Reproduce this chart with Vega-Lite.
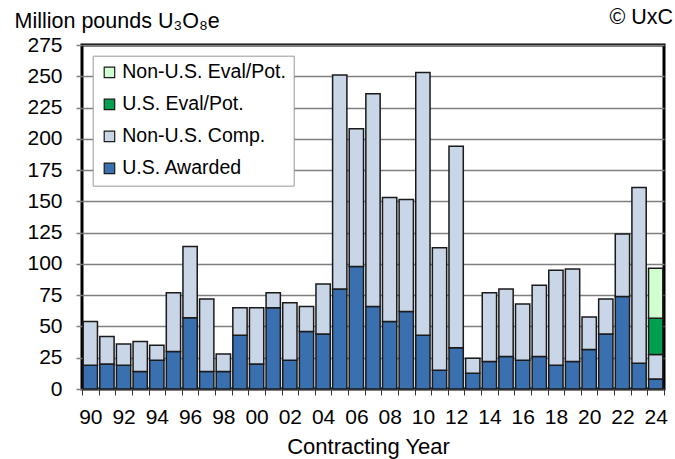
{
  "$schema": "https://vega.github.io/schema/vega-lite/v6.json",
  "width": 582,
  "height": 344,
  "autosize": {"type": "none"},
  "padding": {"left": 82, "top": 45, "right": 11, "bottom": 70},
  "background": "white",
  "title": {"text": "© UxC", "anchor": "end", "frame": "group", "dx": 9, "dy": 35, "baseline": "alphabetic", "offset": 0, "fontSize": 21.5, "font": "Liberation Sans", "fontWeight": "normal", "color": "black"},
  "config": {
    "view": {"stroke": "black", "strokeWidth": 3},
    "font": "Liberation Sans"
  },
  "data": {"values": [
    {"year": 1990, "cat": "U.S. Awarded", "ord": 1, "v": 19}, {"year": 1990, "cat": "Non-U.S. Comp.", "ord": 2, "v": 35},
    {"year": 1991, "cat": "U.S. Awarded", "ord": 1, "v": 20}, {"year": 1991, "cat": "Non-U.S. Comp.", "ord": 2, "v": 22},
    {"year": 1992, "cat": "U.S. Awarded", "ord": 1, "v": 19}, {"year": 1992, "cat": "Non-U.S. Comp.", "ord": 2, "v": 17},
    {"year": 1993, "cat": "U.S. Awarded", "ord": 1, "v": 14}, {"year": 1993, "cat": "Non-U.S. Comp.", "ord": 2, "v": 24},
    {"year": 1994, "cat": "U.S. Awarded", "ord": 1, "v": 23}, {"year": 1994, "cat": "Non-U.S. Comp.", "ord": 2, "v": 12},
    {"year": 1995, "cat": "U.S. Awarded", "ord": 1, "v": 30}, {"year": 1995, "cat": "Non-U.S. Comp.", "ord": 2, "v": 47},
    {"year": 1996, "cat": "U.S. Awarded", "ord": 1, "v": 57}, {"year": 1996, "cat": "Non-U.S. Comp.", "ord": 2, "v": 57},
    {"year": 1997, "cat": "U.S. Awarded", "ord": 1, "v": 14}, {"year": 1997, "cat": "Non-U.S. Comp.", "ord": 2, "v": 58},
    {"year": 1998, "cat": "U.S. Awarded", "ord": 1, "v": 14}, {"year": 1998, "cat": "Non-U.S. Comp.", "ord": 2, "v": 14},
    {"year": 1999, "cat": "U.S. Awarded", "ord": 1, "v": 43}, {"year": 1999, "cat": "Non-U.S. Comp.", "ord": 2, "v": 22},
    {"year": 2000, "cat": "U.S. Awarded", "ord": 1, "v": 20}, {"year": 2000, "cat": "Non-U.S. Comp.", "ord": 2, "v": 45},
    {"year": 2001, "cat": "U.S. Awarded", "ord": 1, "v": 65}, {"year": 2001, "cat": "Non-U.S. Comp.", "ord": 2, "v": 12},
    {"year": 2002, "cat": "U.S. Awarded", "ord": 1, "v": 23}, {"year": 2002, "cat": "Non-U.S. Comp.", "ord": 2, "v": 46},
    {"year": 2003, "cat": "U.S. Awarded", "ord": 1, "v": 46}, {"year": 2003, "cat": "Non-U.S. Comp.", "ord": 2, "v": 20},
    {"year": 2004, "cat": "U.S. Awarded", "ord": 1, "v": 44}, {"year": 2004, "cat": "Non-U.S. Comp.", "ord": 2, "v": 40},
    {"year": 2005, "cat": "U.S. Awarded", "ord": 1, "v": 80}, {"year": 2005, "cat": "Non-U.S. Comp.", "ord": 2, "v": 171},
    {"year": 2006, "cat": "U.S. Awarded", "ord": 1, "v": 98}, {"year": 2006, "cat": "Non-U.S. Comp.", "ord": 2, "v": 110},
    {"year": 2007, "cat": "U.S. Awarded", "ord": 1, "v": 66}, {"year": 2007, "cat": "Non-U.S. Comp.", "ord": 2, "v": 170},
    {"year": 2008, "cat": "U.S. Awarded", "ord": 1, "v": 54}, {"year": 2008, "cat": "Non-U.S. Comp.", "ord": 2, "v": 99},
    {"year": 2009, "cat": "U.S. Awarded", "ord": 1, "v": 62}, {"year": 2009, "cat": "Non-U.S. Comp.", "ord": 2, "v": 89.5},
    {"year": 2010, "cat": "U.S. Awarded", "ord": 1, "v": 43}, {"year": 2010, "cat": "Non-U.S. Comp.", "ord": 2, "v": 210},
    {"year": 2011, "cat": "U.S. Awarded", "ord": 1, "v": 15}, {"year": 2011, "cat": "Non-U.S. Comp.", "ord": 2, "v": 98},
    {"year": 2012, "cat": "U.S. Awarded", "ord": 1, "v": 33}, {"year": 2012, "cat": "Non-U.S. Comp.", "ord": 2, "v": 161},
    {"year": 2013, "cat": "U.S. Awarded", "ord": 1, "v": 12.5}, {"year": 2013, "cat": "Non-U.S. Comp.", "ord": 2, "v": 12},
    {"year": 2014, "cat": "U.S. Awarded", "ord": 1, "v": 22}, {"year": 2014, "cat": "Non-U.S. Comp.", "ord": 2, "v": 55},
    {"year": 2015, "cat": "U.S. Awarded", "ord": 1, "v": 26}, {"year": 2015, "cat": "Non-U.S. Comp.", "ord": 2, "v": 54},
    {"year": 2016, "cat": "U.S. Awarded", "ord": 1, "v": 23}, {"year": 2016, "cat": "Non-U.S. Comp.", "ord": 2, "v": 45},
    {"year": 2017, "cat": "U.S. Awarded", "ord": 1, "v": 26}, {"year": 2017, "cat": "Non-U.S. Comp.", "ord": 2, "v": 57},
    {"year": 2018, "cat": "U.S. Awarded", "ord": 1, "v": 19}, {"year": 2018, "cat": "Non-U.S. Comp.", "ord": 2, "v": 76},
    {"year": 2019, "cat": "U.S. Awarded", "ord": 1, "v": 22}, {"year": 2019, "cat": "Non-U.S. Comp.", "ord": 2, "v": 74},
    {"year": 2020, "cat": "U.S. Awarded", "ord": 1, "v": 31.5}, {"year": 2020, "cat": "Non-U.S. Comp.", "ord": 2, "v": 26},
    {"year": 2021, "cat": "U.S. Awarded", "ord": 1, "v": 44}, {"year": 2021, "cat": "Non-U.S. Comp.", "ord": 2, "v": 28},
    {"year": 2022, "cat": "U.S. Awarded", "ord": 1, "v": 74}, {"year": 2022, "cat": "Non-U.S. Comp.", "ord": 2, "v": 50},
    {"year": 2023, "cat": "U.S. Awarded", "ord": 1, "v": 20.5}, {"year": 2023, "cat": "Non-U.S. Comp.", "ord": 2, "v": 140.5},
    {"year": 2024, "cat": "U.S. Awarded", "ord": 1, "v": 8}, {"year": 2024, "cat": "Non-U.S. Comp.", "ord": 2, "v": 19.5},
    {"year": 2024, "cat": "U.S. Eval/Pot.", "ord": 3, "v": 29}, {"year": 2024, "cat": "Non-U.S. Eval/Pot.", "ord": 4, "v": 40}
  ]},
  "mark": {"type": "bar", "stroke": "#1a1a1a", "strokeWidth": 1.5, "width": {"band": 0.86}},
  "encoding": {
    "x": {
      "field": "year", "type": "ordinal",
      "scale": {"paddingInner": 0, "paddingOuter": 0},
      "axis": {
        "title": "Contracting Year", "titleFontSize": 22, "titleFontWeight": "normal", "titleColor": "black", "titlePadding": 9, "titleX": 286,
        "labelExpr": "datum.value % 2 == 0 ? slice(datum.label, 2) : ''",
        "labelAngle": 0, "labelFontSize": 21, "labelColor": "black", "labelPadding": 11,
        "tickBand": "extent", "ticks": true, "tickSize": 6, "tickColor": "#333333", "tickWidth": 1,
        "domain": false, "grid": false
      }
    },
    "y": {
      "field": "v", "type": "quantitative", "stack": "zero",
      "scale": {"domain": [0, 275], "nice": false},
      "axis": {
        "values": [0, 25, 50, 75, 100, 125, 150, 175, 200, 225, 250, 275],
        "title": "Million pounds U₃O₈e", "titleAngle": 0, "titleAlign": "left", "titleBaseline": "alphabetic",
        "titleX": -68, "titleY": -18, "titleFontSize": 21.5, "titleFontWeight": "normal", "titleColor": "black",
        "labelFontSize": 21, "labelColor": "black", "labelPadding": 14,
        "tickSize": 6, "tickColor": "#808080", "tickWidth": 1.5,
        "grid": true, "gridColor": "#808080", "gridWidth": 1.5,
        "domain": false
      }
    },
    "color": {
      "field": "cat", "type": "nominal",
      "scale": {
        "domain": ["Non-U.S. Eval/Pot.", "U.S. Eval/Pot.", "Non-U.S. Comp.", "U.S. Awarded"],
        "range": ["#D2FFD0", "#00A050", "#C9D6E8", "#3A6FB0"]
      },
      "legend": {
        "title": null, "orient": "none", "legendX": 10.7, "legendY": 10.7,
        "labelFontSize": 19.5, "labelColor": "black", "labelOffset": 3, "labelLimit": 400,
        "symbolType": "square", "symbolSize": 110, "symbolStrokeColor": "#1a1a1a", "symbolStrokeWidth": 1.2,
        "rowPadding": 11, "padding": 7,
        "strokeColor": "#999999", "fillColor": "white"
      }
    },
    "order": {"field": "ord", "type": "quantitative"}
  }
}
